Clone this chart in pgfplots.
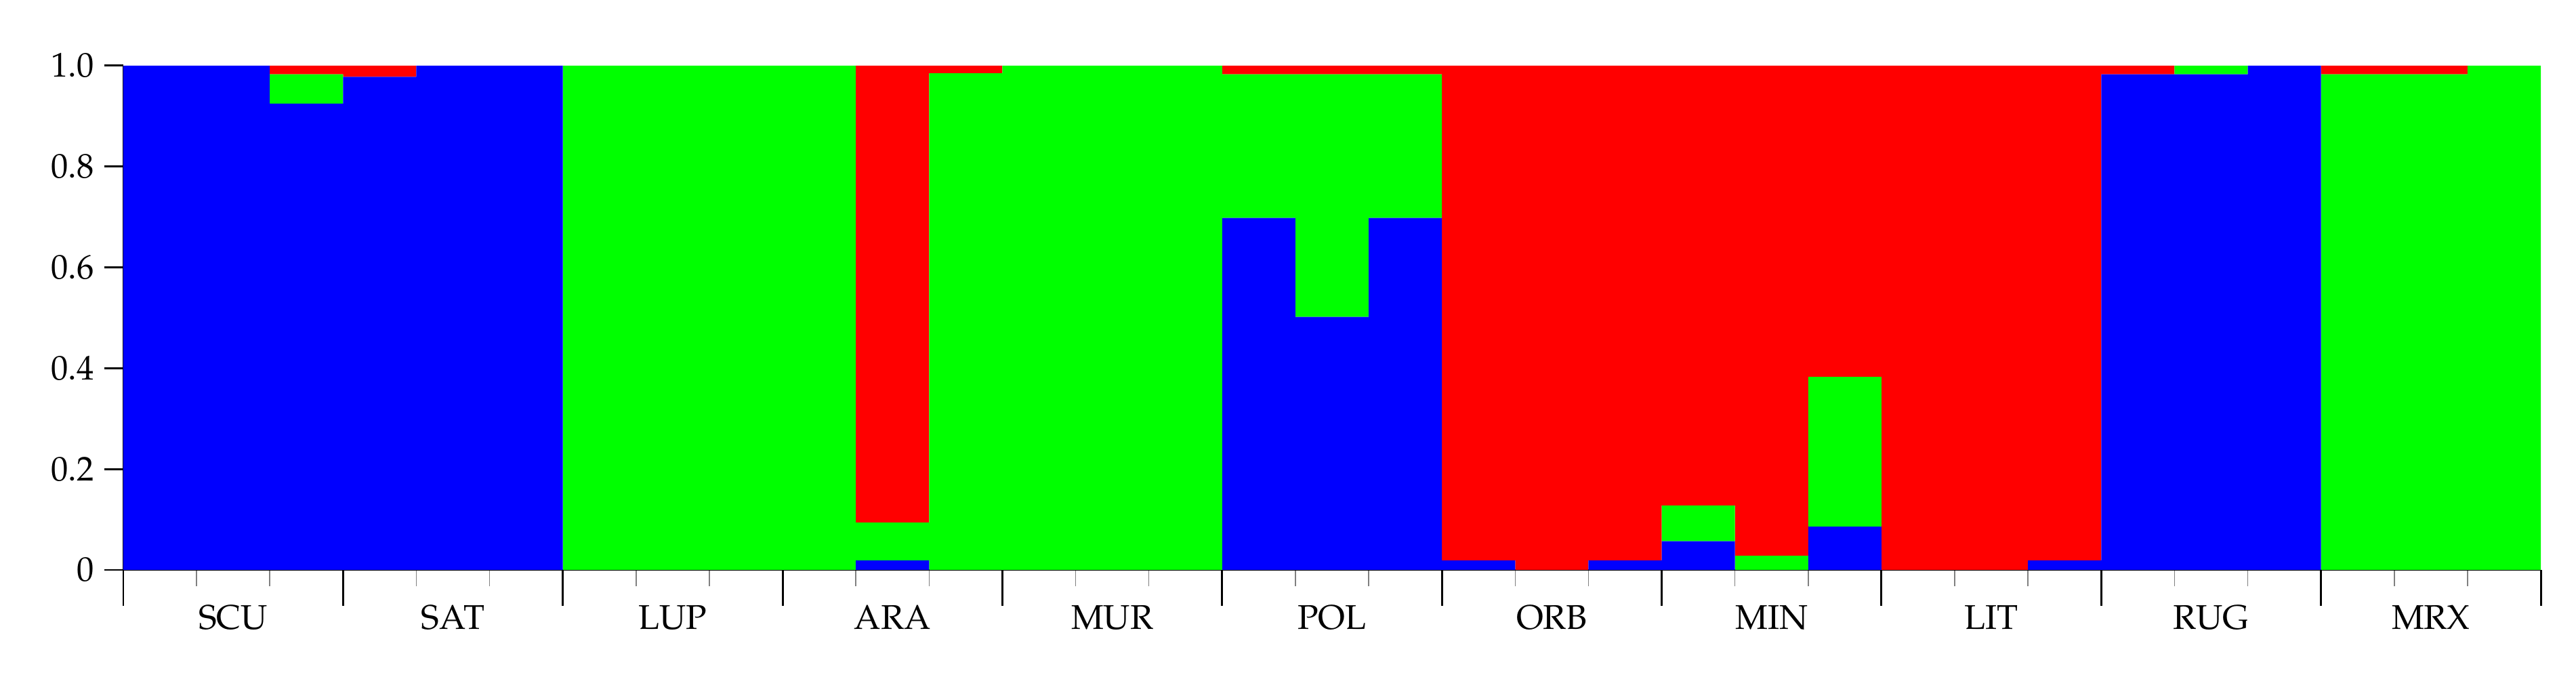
\documentclass[border=0pt]{standalone}
\usepackage[T1]{fontenc}
\usepackage{mathpazo}
\usepackage{pgfplots}
\pgfplotsset{compat=1.18}
\definecolor{kblue}{RGB}{0,0,255}
\definecolor{kgreen}{RGB}{0,255,0}
\definecolor{kred}{RGB}{255,0,0}

% ancestry proportions, 11 populations x 3 individuals
\pgfplotstableread{
x     blue   green  red
0.5   1      0      0
1.5   1      0      0
2.5   0.925  0.058  0.017
3.5   0.978  0      0.022
4.5   1      0      0
5.5   1      0      0
6.5   0      1      0
7.5   0      1      0
8.5   0      1      0
9.5   0      1      0
10.5  0.019  0.075  0.906
11.5  0      0.985  0.015
12.5  0      1      0
13.5  0      1      0
14.5  0      1      0
15.5  0.698  0.285  0.017
16.5  0.502  0.481  0.017
17.5  0.698  0.285  0.017
18.5  0.019  0      0.981
19.5  0      0      1
20.5  0.019  0      0.981
21.5  0.057  0.071  0.872
22.5  0      0.028  0.972
23.5  0.086  0.297  0.617
24.5  0      0      1
25.5  0      0      1
26.5  0.019  0      0.981
27.5  0.983  0      0.017
28.5  0.983  0.017  0
29.5  1      0      0
30.5  0      0.983  0.017
31.5  0      0.983  0.017
32.5  0      1      0
}\admix

\begin{document}
\begin{tikzpicture}
\useasboundingbox (-1.82,-1.58) rectangle (36.20,8.41);
\begin{axis}[
  at={(0,0)}, anchor=south west,
  scale only axis, width=35.68cm, height=7.44cm,
  xmin=0, xmax=33, ymin=0, ymax=1,
  ybar stacked, bar width=1,
  axis x line*=bottom, axis y line*=left,
  axis line style={line width=0.85pt, -},
  tick align=outside,
  major tick length=0.53cm, minor tick length=0.24cm,
  every major tick/.append style={black, line width=0.85pt},
  every minor tick/.append style={gray, line width=0.45pt},
  xtick={0,3,...,33}, xticklabels={},
  minor xtick={1,2,4,5,7,8,10,11,13,14,16,17,19,20,22,23,25,26,28,29,31,32},
  extra x ticks={1.5,4.5,...,31.5},
  extra x tick labels={SCU,SAT,LUP,ARA,MUR,POL,ORB,MIN,LIT,RUG,MRX},
  extra x tick style={major tick length=0pt, xticklabel style={yshift=-0.40cm}},
  ytick=\empty,
  extra y ticks={0,0.2,0.4,0.6,0.8,1},
  extra y tick labels={0,0.2,0.4,0.6,0.8,1.0},
  extra y tick style={major tick length=0.28cm, yticklabel style={xshift=-0.03cm}},
  tick label style={font=\fontsize{14.4}{17}\selectfont},
  /pgf/number format/assume math mode=true,
  clip=false,
]
\addplot[fill=kblue, draw=none] table[x=x, y=blue] {\admix};
\addplot[fill=kgreen, draw=none] table[x=x, y=green] {\admix};
\addplot[fill=kred, draw=none] table[x=x, y=red] {\admix};
\end{axis}
\end{tikzpicture}
\end{document}
